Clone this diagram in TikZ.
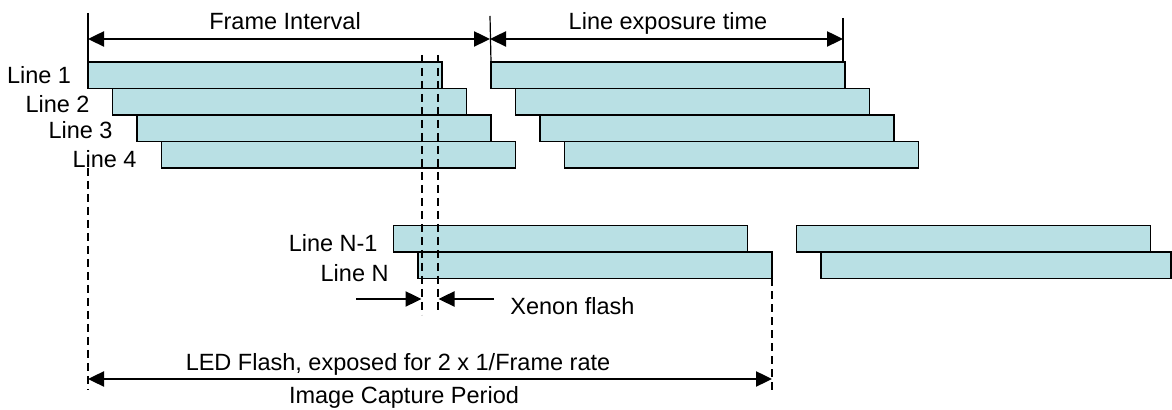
\documentclass[tikz,border=0pt]{standalone}
\usepackage{fontspec}
\setmainfont{Liberation Sans}
\usetikzlibrary{arrows.meta}
\definecolor{barfill}{RGB}{185,224,228}

\begin{document}
\begin{tikzpicture}[x=0.5pt,y=-0.5pt,font=\fontsize{11.75pt}{14pt}\selectfont]
        \tikzstyle{linebar}=[draw,line width=0.9pt,fill=barfill,anchor=north west,minimum width=177pt,minimum height=13.25pt,inner sep=0pt,outer sep=0pt]
        \tikzstyle{linelabel}=[inner sep=0pt,anchor=base east]
        \tikzstyle{caption}=[inner sep=0pt,anchor=base]
        \tikzstyle{dim}=[line width=1.2pt,{Triangle[length=8pt,width=7.5pt]}-{Triangle[length=8pt,width=7.5pt]}]
        \tikzstyle{onearrow}=[line width=1.2pt,-{Triangle[length=8pt,width=7.5pt]}]
        \tikzstyle{tick}=[line width=0.6pt]
        \tikzstyle{marker}=[line width=0.85pt,dash pattern=on 4pt off 2.5pt]

        \useasboundingbox (0,0) rectangle (1172,410);

        % first frame
        \draw (88,62) node[linebar] (a1) {};
        \draw (112.5,88.5) node[linebar] (a2) {};
        \draw (137,115) node[linebar] (a3) {};
        \draw (161.5,141.5) node[linebar] (a4) {};
        \draw (393.5,225.5) node[linebar] (an1) {};
        \draw (418,252) node[linebar] (an) {};

        % second frame
        \draw (491,62) node[linebar] (b1) {};
        \draw (515.5,88.5) node[linebar] (b2) {};
        \draw (540,115) node[linebar] (b3) {};
        \draw (564.5,141.5) node[linebar] (b4) {};
        \draw (796.5,225.5) node[linebar] (bn1) {};
        \draw (821,252) node[linebar,minimum width=175pt] (bn) {};

        \draw (71.5,84) node[linelabel] (l1) {Line 1};
        \draw (90,112.5) node[linelabel] (l2) {Line 2};
        \draw (113,139) node[linelabel] (l3) {Line 3};
        \draw (137,168) node[linelabel] (l4) {Line 4};
        \draw (378,252) node[linelabel] (ln1) {Line N-1};
        \draw (389,281.5) node[linelabel] (ln) {Line N};

        % top dimensions
        \coordinate (f0) at (88,13);
        \coordinate (f1) at (490,16);
        \coordinate (f2) at (843,18);
        \coordinate (f3) at (843,62);
        \coordinate (fi0) at (88,39);
        \coordinate (fi1) at (490,39);
        \coordinate (le1) at (843,39);
        \draw[tick] (f0) -- (a1.north west);
        \draw[tick] (f1) -- (b1.north west);
        \draw[tick] (f2) -- (f3);
        \draw[dim] (fi0) -- (fi1);
        \draw[dim] (fi1) -- (le1);
        \draw (285,30) node[caption] (tframe) {Frame Interval};
        \draw (668,30) node[caption] (texp) {Line exposure time};

        % xenon flash
        \coordinate (x0) at (422,55);
        \coordinate (x0b) at (422,315);
        \coordinate (x1) at (438,55);
        \coordinate (x1b) at (438,313);
        \coordinate (xa) at (356,299);
        \coordinate (xae) at (421.5,299);
        \coordinate (xb) at (494,299);
        \coordinate (xbe) at (438.5,299);
        \draw[marker] (x0) -- (x0b);
        \draw[marker] (x1) -- (x1b);
        \draw[onearrow] (xa) -- (xae);
        \draw[onearrow] (xb) -- (xbe);
        \draw (510,315) node[inner sep=0pt,anchor=base west] (txe) {Xenon flash};

        % led flash
        \coordinate (c0) at (88,168);
        \coordinate (c1) at (88,390);
        \coordinate (c2) at (772,390);
        \coordinate (d0) at (88,379);
        \coordinate (d1) at (772,379);
        \draw[marker] (c0) -- (c1);
        \draw[marker] (an.south east) -- (c2);
        \draw[dim] (d0) -- (d1);
        \draw (398,371) node[caption] (tled) {LED Flash, exposed for 2 x 1/Frame rate};
        \draw (404,404) node[caption] (tcap) {Image Capture Period};

\end{tikzpicture}
\end{document}
